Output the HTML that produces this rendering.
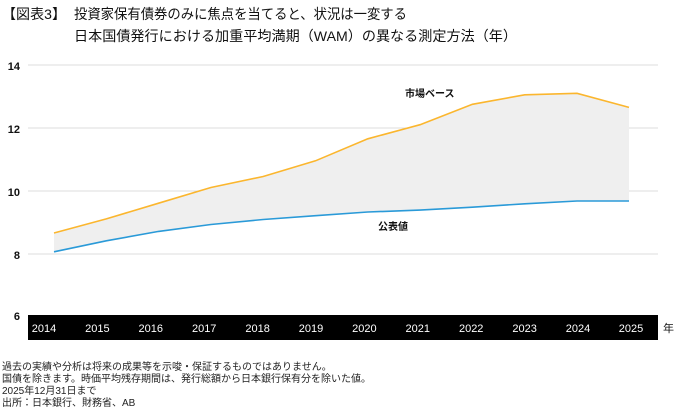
<!DOCTYPE html>
<html><head><meta charset="utf-8"><style>
body{margin:0;background:#fff;width:674px;height:410px;overflow:hidden;font-family:"Liberation Sans","Noto Sans CJK JP",sans-serif}
</style></head><body>
<svg width="674" height="410" xmlns="http://www.w3.org/2000/svg" style="position:absolute;left:0;top:0;font-family:'Liberation Sans','Noto Sans CJK JP',sans-serif">
<text x="2" y="19" font-size="14" fill="#111" textLength="64" lengthAdjust="spacingAndGlyphs">【図表3】</text>
<text x="74" y="19" font-size="14" fill="#111" textLength="333" lengthAdjust="spacingAndGlyphs">投資家保有債券のみに焦点を当てると、状況は一変する</text>
<text x="74" y="41" font-size="14" fill="#111" textLength="443" lengthAdjust="spacingAndGlyphs">日本国債発行における加重平均満期（WAM）の異なる測定方法（年）</text>
<g stroke="#dcdcdc" stroke-width="1">
<line x1="28" y1="65" x2="658" y2="65"/><line x1="28" y1="128" x2="658" y2="128"/>
<line x1="28" y1="191" x2="658" y2="191"/><line x1="28" y1="254" x2="658" y2="254"/>
</g>
<g font-size="11" font-weight="bold" fill="#111" text-anchor="end">
<text x="20" y="70">14</text><text x="20" y="133">12</text><text x="20" y="196">10</text><text x="20" y="259">8</text><text x="20" y="320">6</text>
</g>
<polygon fill="#efefef" points="54,233 106.3,218.9 158.6,203.2 210.9,187.5 263.2,176.5 315.5,160.8 367.8,138.8 420.1,124.7 472.4,104.3 524.7,94.8 577,93.3 629,107.4 629,201 577,201 524.7,203.8 472.4,207.2 420.1,210.1 367.8,212 315.5,215.7 263.2,219.5 210.9,224.5 158.6,231.4 106.3,240.8 54,251.8"/>
<polyline fill="none" stroke="#fbb62e" stroke-width="1.6" points="54,233 106.3,218.9 158.6,203.2 210.9,187.5 263.2,176.5 315.5,160.8 367.8,138.8 420.1,124.7 472.4,104.3 524.7,94.8 577,93.3 629,107.4"/>
<polyline fill="none" stroke="#2a9ad8" stroke-width="1.6" points="54,251.8 106.3,240.8 158.6,231.4 210.9,224.5 263.2,219.5 315.5,215.7 367.8,212 420.1,210.1 472.4,207.2 524.7,203.8 577,201 629,201"/>
<text x="405" y="97" font-size="10" font-weight="bold" fill="#111">市場ベース</text>
<text x="378" y="230" font-size="10" font-weight="bold" fill="#111">公表値</text>
<rect x="28" y="315" width="630" height="25" fill="#000"/>
<g font-size="11" fill="#fff" text-anchor="middle">
<text x="44" y="332">2014</text><text x="97.4" y="332">2015</text><text x="150.8" y="332">2016</text><text x="204.2" y="332">2017</text><text x="257.6" y="332">2018</text><text x="311" y="332">2019</text><text x="364.4" y="332">2020</text><text x="417.8" y="332">2021</text><text x="471.2" y="332">2022</text><text x="524.6" y="332">2023</text><text x="578" y="332">2024</text><text x="631" y="332">2025</text>
</g>
<text x="663" y="332" font-size="11" fill="#111">年</text>
<g font-size="10" fill="#222">
<text x="2" y="370">過去の実績や分析は将来の成果等を示唆・保証するものではありません。</text>
<text x="2" y="382">国債を除きます。時価平均残存期間は、発行総額から日本銀行保有分を除いた値。</text>
<text x="2" y="394">2025年12月31日まで</text>
<text x="2" y="406">出所：日本銀行、財務省、AB</text>
</g>
</svg>
</body></html>
